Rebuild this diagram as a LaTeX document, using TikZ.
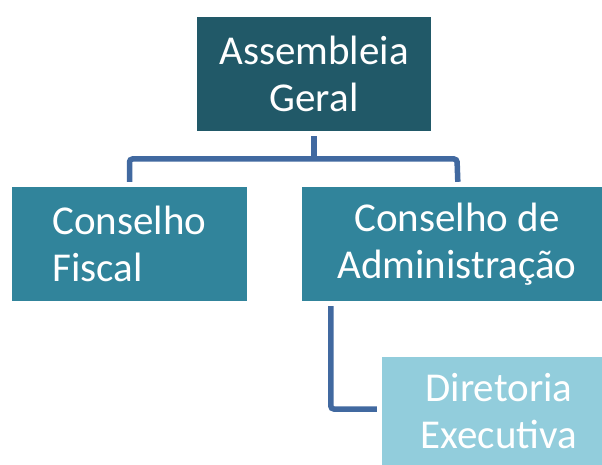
\documentclass[tikz,border=0pt]{standalone}
\usepackage{fontspec}
\setmainfont{Carlito}
\definecolor{darkteal}{HTML}{215968}
\definecolor{midteal}{HTML}{31849B}
\definecolor{lightteal}{HTML}{92CDDC}
\definecolor{connblue}{HTML}{4169A0}
\tikzset{
  box/.style={inner sep=0pt, text=white, font=\fontsize{41}{47}\selectfont, minimum height=114pt},
  conn/.style={draw=connblue, line width=5.5pt, rounded corners=3pt}
}
\begin{document}
\begin{tikzpicture}[x=1pt,y=-1pt]
\useasboundingbox (0,0) rectangle (602,465);
\clip (0,0) rectangle (602,465);
\node[box, fill=darkteal, minimum width=234pt, align=center] (A) at (314,74) {Assembleia\\Geral};
\node[box, fill=midteal, minimum width=235pt, align=left] (F) at (129.5,244) {Conselho\\Fiscal};
\node[box, fill=midteal, minimum width=310pt, align=center] (C) at (457,244) {Conselho de\\Administração};
\node[box, fill=lightteal, minimum width=234pt, minimum height=108pt, align=center] (E) at (499,411) {Diretoria\\Executiva};
\coordinate (bar) at (0,159);
\draw[conn, shorten <=5pt] (A.south) -- (A.south |- bar);
\draw[conn, shorten <=5pt, shorten >=5pt] (F.north) |- (bar -| C.north) -- ([xshift=1pt]C.north);
\draw[conn, shorten <=5pt, shorten >=5pt] ([xshift=29pt]C.south west) |- ([yshift=2pt]E.west);
\end{tikzpicture}
\end{document}
